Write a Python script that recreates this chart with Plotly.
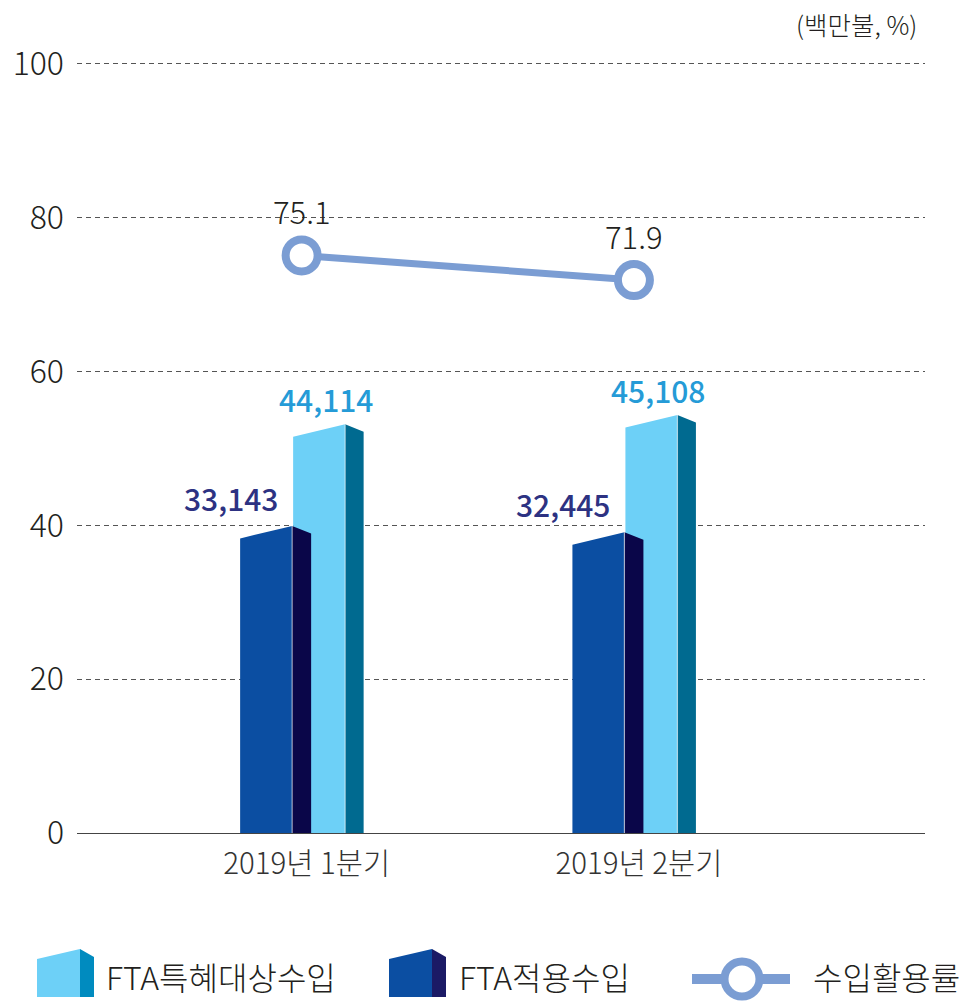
import plotly.graph_objects as go

# ---- data ----
categories = ["2019년 1분기", "2019년 2분기"]
fta_target = [44114, 45108]      # FTA특혜대상수입 (백만불)
fta_applied = [33143, 32445]     # FTA적용수입 (백만불)
util_rate = [75.1, 71.9]         # 수입활용률 (%)
y_ticks = [0, 20, 40, 60, 80, 100]
unit_label = "(백만불, %)"
legend_names = ["FTA특혜대상수입", "FTA적용수입", "수입활용률"]

# ---- style ----
FONT = "Noto Sans CJK KR"
W, H = 967, 1002
Y_RANGE = [0, 100.25]
ML, MR, MB = 77, 42, 169
PX_PER_PCT = 769 / 100
MT = int(round(H - MB - Y_RANGE[1] * PX_PER_PCT))
PW, PH = W - ML - MR, H - MT - MB
X_RANGE = [-0.676, 1.876]
XU = (X_RANGE[1] - X_RANGE[0]) / PW      # x data units per px
Y2MAX = 83000 * Y_RANGE[1] / 100
YU = Y2MAX / PH                           # y2 units per px

LIGHT_FRONT, LIGHT_SIDE = "#6dd0f7", "#006a90"
DARK_FRONT, DARK_SIDE = "#0b4ea2", "#0a0649"
LINE_COL = "#7b9dd3"
TXT = "#231f20"

xs = list(range(len(categories)))


def bar_polys(values, f0, f1, s1, sf=12.5, ss=7.5):
    fx, fy, sx, sy, ex, ey = [], [], [], [], [], []
    for c, v in zip(xs, values):
        x0, x1, x2 = c + f0 * XU, c + f1 * XU, c + s1 * XU
        fx += [x0, x0, x1, x1, x0, None]
        fy += [0, v - sf * YU, v, 0, 0, None]
        sx += [x1, x1, x2, x2, x1, None]
        sy += [0, v, v - ss * YU, 0, 0, None]
        ex += [x1, x1, None]
        ey += [0, v, None]
    return fx, fy, sx, sy, ex, ey


fig = go.Figure()


def add_bar(values, f0, f1, s1, cf, cs):
    fx, fy, sx, sy, ex, ey = bar_polys(values, f0, f1, s1)
    fig.add_trace(go.Scatter(x=fx, y=fy, fill="toself", fillcolor=cf, mode="lines",
                             line=dict(width=0, color=cf), yaxis="y2", showlegend=False,
                             hoverinfo="skip"))
    fig.add_trace(go.Scatter(x=sx, y=sy, fill="toself", fillcolor=cs, mode="lines",
                             line=dict(width=0, color=cs), yaxis="y2", showlegend=False,
                             hoverinfo="skip"))
    fig.add_trace(go.Scatter(x=ex, y=ey, mode="lines", yaxis="y2", showlegend=False,
                             line=dict(width=1.2, color="rgba(255,255,255,0.55)"),
                             hoverinfo="skip"))


# light (behind) then dark (front)
add_bar(fta_target, -8.5, 43.5, 62, LIGHT_FRONT, LIGHT_SIDE)
add_bar(fta_applied, -61.5, -9.5, 9.5, DARK_FRONT, DARK_SIDE)

# line
fig.add_trace(go.Scatter(x=xs, y=util_rate, mode="lines+markers", showlegend=False,
                         line=dict(color=LINE_COL, width=7),
                         marker=dict(size=32, color="white", line=dict(color=LINE_COL, width=8)),
                         hoverinfo="skip"))

ann = []
for c, v in zip(xs, fta_target):
    ann.append(dict(x=c + 24 * XU, y=v, yref="y2", xref="x", text=f"{v:,}", showarrow=False,
                    yanchor="bottom", yshift=1,
                    font=dict(family=FONT, size=30, color="#259bd7", weight=500)))
for c, v in zip(xs, fta_applied):
    ann.append(dict(x=c - 71 * XU, y=v, yref="y2", xref="x", text=f"{v:,}", showarrow=False,
                    yanchor="bottom", yshift=4,
                    font=dict(family=FONT, size=30, color="#2d3282", weight=500)))
for c, v in zip(xs, util_rate):
    ann.append(dict(x=c, y=v, yref="y", xref="x", text=f"{v}", showarrow=False,
                    yanchor="bottom", yshift=20,
                    font=dict(family=FONT, size=31, color=TXT, weight=300)))


def px(x):
    return (x - ML) / PW


def py(y):
    return (MT + PH - y) / PH


ann.append(dict(x=px(919), y=py(24), xref="paper", yref="paper",
                xanchor="right", yanchor="middle", text=unit_label, showarrow=False,
                font=dict(family=FONT, size=25.5, color=TXT, weight=300)))

shapes = []


def icon(x0, cf, cs):
    shapes.append(dict(type="path", xref="paper", yref="paper", line=dict(width=0), fillcolor=cf,
                       path=f"M {px(x0)},{py(997)} L {px(x0)},{py(959)} L {px(x0+43)},{py(949)} "
                            f"L {px(x0+43)},{py(997)} Z"))
    shapes.append(dict(type="path", xref="paper", yref="paper", line=dict(width=0), fillcolor=cs,
                       path=f"M {px(x0+43)},{py(997)} L {px(x0+43)},{py(949)} L {px(x0+57)},{py(957)} "
                            f"L {px(x0+57)},{py(997)} Z"))


icon(37, LIGHT_FRONT, "#008bbf")
icon(389, DARK_FRONT, "#1b1a65")
shapes.append(dict(type="line", xref="paper", yref="paper", x0=px(692), x1=px(790),
                   y0=py(979), y1=py(979), line=dict(color=LINE_COL, width=10)))
shapes.append(dict(type="circle", xref="paper", yref="paper", x0=px(742 - 17.5), x1=px(742 + 17.5),
                   y0=py(979 + 17.5), y1=py(979 - 17.5), fillcolor="white",
                   line=dict(color=LINE_COL, width=8)))

for xl, name in [(104, legend_names[0]), (457, legend_names[1]), (811, legend_names[2])]:
    ann.append(dict(x=px(xl), y=py(976), xref="paper", yref="paper", xanchor="left",
                    yanchor="middle", text=name, showarrow=False,
                    font=dict(family=FONT, size=32, color=TXT, weight=300)))

fig.update_layout(
    width=W, height=H, margin=dict(l=ML, r=MR, t=MT, b=MB, autoexpand=False),
    paper_bgcolor="white", plot_bgcolor="white",
    font=dict(family=FONT, color=TXT),
    xaxis=dict(range=X_RANGE, tickvals=xs, ticktext=categories, showgrid=False,
               zeroline=False, showline=False, ticks="",
               tickfont=dict(family=FONT, size=29.5, color="#333333", weight=300),
               ticklabelstandoff=10, ticklabelshift=5),
    yaxis=dict(range=Y_RANGE, tickvals=y_ticks, showgrid=True, gridcolor="#555555",
               griddash="5px,4px", gridwidth=1, zeroline=True, zerolinecolor="#444444",
               zerolinewidth=1.2, ticks="", tickfont=dict(family=FONT, size=32, color=TXT, weight=300),
               ticklabelstandoff=12, showline=False),
    yaxis2=dict(range=[0, Y2MAX], overlaying="y", side="right", showgrid=False,
                showticklabels=False, zeroline=False, ticks=""),
    annotations=ann, shapes=shapes, showlegend=False,
)

fig.write_html("out.html", config={"displayModeBar": False},
               post_script="document.body.style.margin='0';document.body.style.overflow='hidden';")
